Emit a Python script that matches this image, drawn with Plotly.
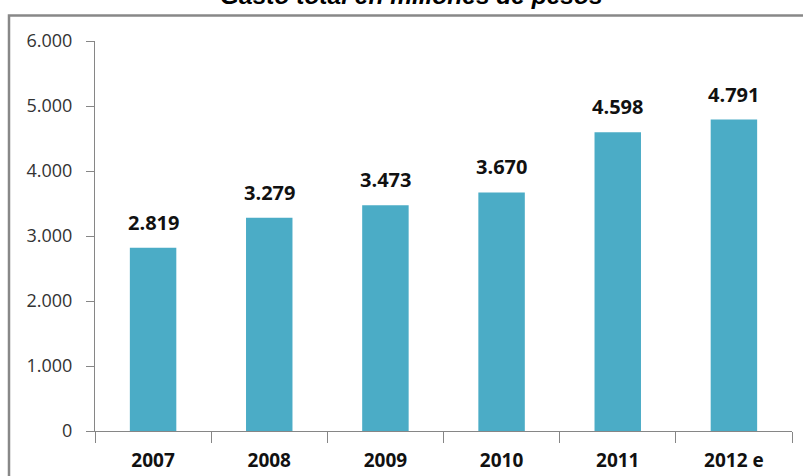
import plotly.graph_objects as go

categories = ["2007", "2008", "2009", "2010", "2011", "2012 e"]
values = [2819, 3279, 3473, 3670, 4598, 4791]
y_ticks = [0, 1000, 2000, 3000, 4000, 5000, 6000]
y_tick_labels = ["0", "1.000", "2.000", "3.000", "4.000", "5.000", "6.000"]
title_text = "Gasto total en millones de pesos"

W, H = 803, 476
ml, mr, mt, mb = 95, 11, 41, 45
pw, ph = W - ml - mr, H - mt - mb

fig = go.Figure()
fig.add_trace(go.Bar(
    x=categories, y=values,
    marker=dict(color="#4BACC6", line=dict(width=0)),
    hoverinfo="x+y",
))

annotations = []
for i, v in enumerate(values):
    annotations.append(dict(
        x=i, y=v, xref="x", yref="y",
        text=f"{v:,}".replace(",", "."),
        showarrow=False, yanchor="bottom", yshift=10,
        font=dict(family="Open Sans", size=20, color="#111111", weight="bold"),
    ))

annotations.append(dict(
    x=(411 - ml) / pw, y=(H - mb - 11) / ph, xref="paper", yref="paper",
    text=f"<b><i>{title_text}</i></b>", showarrow=False,
    xanchor="center", yanchor="bottom",
    font=dict(family="Liberation Sans", size=24.5, color="#000000"),
))

fig.update_layout(
    width=W, height=H,
    margin=dict(l=ml, r=mr, t=mt, b=mb, autoexpand=False),
    paper_bgcolor="white", plot_bgcolor="white",
    showlegend=False,
    bargap=0.6,
    annotations=annotations,
    shapes=[dict(
        type="rect", xref="paper", yref="paper",
        x0=(9 - ml) / pw, x1=1.2,
        y0=-0.3, y1=(H - mb - 15.5) / ph,
        line=dict(color="#888888", width=2.5), fillcolor="rgba(0,0,0,0)",
        layer="below",
    )],
)

fig.update_xaxes(
    type="category", automargin=False,
    categoryorder="array", categoryarray=categories,
    range=[-0.5, len(categories) - 0.5],
    showline=True, linecolor="#868686", linewidth=1,
    ticks="outside", ticklen=11, tickcolor="#868686", tickson="boundaries",
    showgrid=False,
    tickfont=dict(family="Open Sans", size=19, color="#111111", weight="bold"),
    ticklabelstandoff=12,
)
fig.update_yaxes(
    range=[0, 6000], automargin=False,
    tickvals=y_ticks, ticktext=y_tick_labels,
    showline=True, linecolor="#868686", linewidth=1,
    ticks="outside", ticklen=8, tickcolor="#868686",
    showgrid=False, zeroline=False,
    tickfont=dict(family="Open Sans", size=18, color="#333333"),
    ticklabelstandoff=10,
)

fig.write_html("out.html")
